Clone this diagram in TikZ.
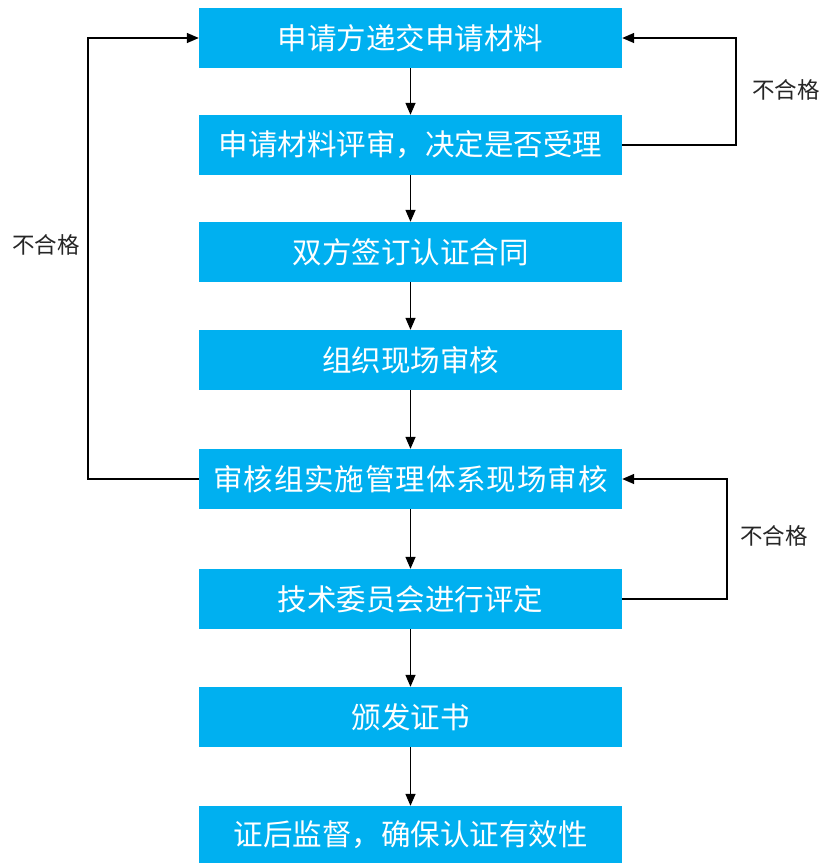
\documentclass[tikz,border=0pt]{standalone}
\usepackage{fontspec}
\setmainfont{Noto Sans CJK SC}
\newfontfamily\cjkwide[LetterSpace=3]{Noto Sans CJK SC}
\usetikzlibrary{arrows.meta}
\definecolor{boxblue}{HTML}{00B0F0}
\definecolor{labgray}{HTML}{262626}
\tikzset{
  stepbox/.style={fill=boxblue, draw=none, minimum width=423pt, minimum height=60pt,
    inner sep=0pt, text=white, font=\fontsize{29.5}{31}\selectfont, anchor=center},
  conn/.style={line width=1.4pt, draw=black, -{Triangle[length=12pt,width=10pt]}},
  loopline/.style={line width=1.4pt, draw=black, -{Triangle[length=12pt,width=10pt]}},
  lab/.style={text=labgray, font=\fontsize{22.5}{24}\selectfont, inner sep=0pt}
}
\begin{document}
\begin{tikzpicture}[x=1pt,y=-1pt]
\useasboundingbox (0,0) rectangle (821,863);
\node[stepbox] (b1) at (410.5,38) {申请方递交申请材料};
\node[stepbox] (b2) at (410.5,145) {申请材料评审，决定是否受理};
\node[stepbox] (b3) at (410.5,252) {双方签订认证合同};
\node[stepbox] (b4) at (410.5,360) {组织现场审核};
\node[stepbox] (b5) at (410.5,479) {\cjkwide 审核组实施管理体系现场审核};
\node[stepbox] (b6) at (410.5,599) {技术委员会进行评定};
\node[stepbox] (b7) at (410.5,717) {颁发证书};
\node[stepbox, minimum height=58pt] (b8) at (410.5,835) {证后监督，确保认证有效性};

\draw[conn] (b1) -- (b2);
\draw[conn] (b2) -- (b3);
\draw[conn] (b3) -- (b4);
\draw[conn] (b4) -- (b5);
\draw[conn] (b5) -- (b6);
\draw[conn] (b6) -- (b7);
\draw[conn] (b7) -- (b8);

\coordinate (r1) at (736,0);
\coordinate (l1) at (88,0);
\coordinate (r2) at (727,0);
\draw[loopline] (b2.east) -- (b2.east -| r1) -- (b1.east -| r1) -- (b1.east);
\draw[loopline] (b5.west) -- (b5.west -| l1) -- (b1.west -| l1) -- (b1.west);
\draw[loopline] (b6.east) -- (b6.east -| r2) -- (b5.east -| r2) -- (b5.east);

\node[lab] (t1) at (786,90) {不合格};
\node[lab] (t2) at (46,245) {不合格};
\node[lab] (t3) at (774,536) {不合格};
\end{tikzpicture}
\end{document}
